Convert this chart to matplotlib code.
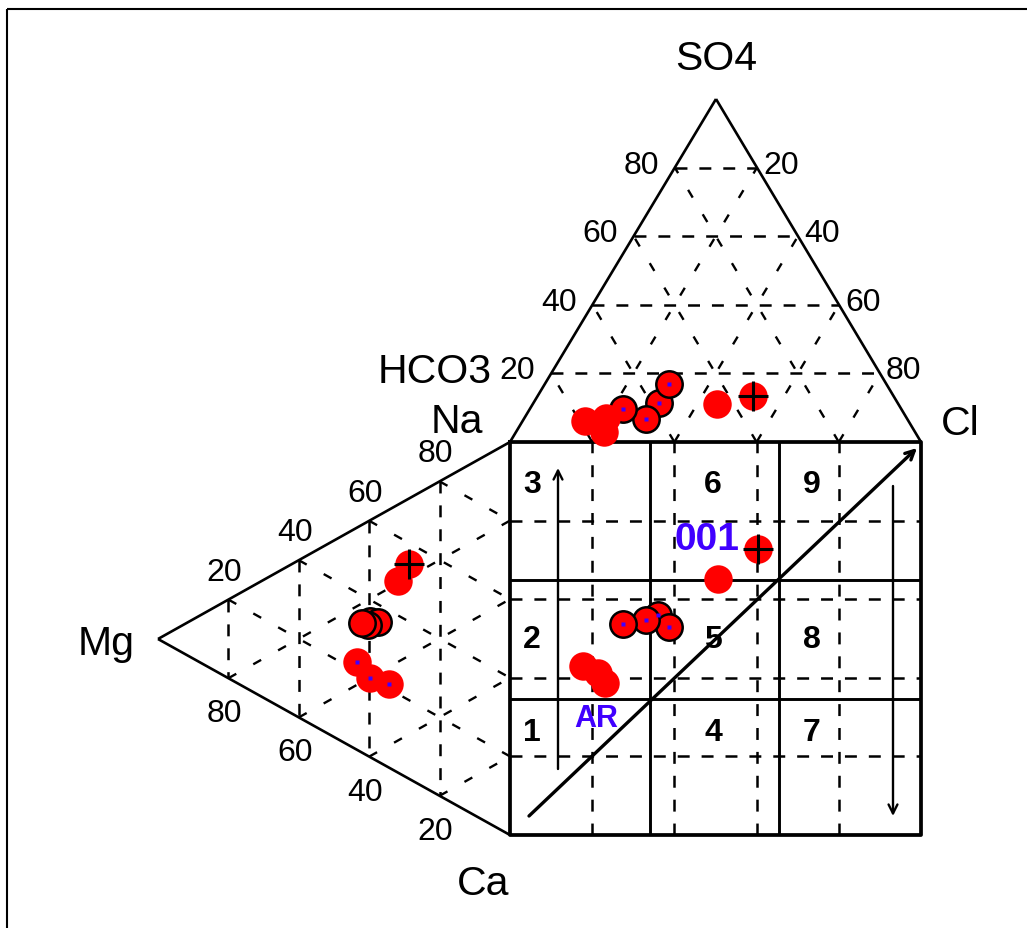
import matplotlib
matplotlib.use('Agg')
import matplotlib.pyplot as plt

plt.rcParams['font.family'] = ['Liberation Sans', 'DejaVu Sans']
plt.rcParams['lines.scale_dashes'] = False

# sample readings (percent) - one entry per plotted circle
kinds = ['cross', 'plain', 'ring', 'ring', 'ring', 'ring', 'blob', 'blob', 'blob']
# anion triangle
so4 = [13.4, 11.1, 11.4, 16.9, 6.7, 9.6, 6.1, 7.0, 2.9]
cl = [52.5, 44.9, 30.6, 30.3, 29.8, 22.7, 15.2, 19.9, 21.5]
# cation triangle
na = [54.7, 48.8, 34.6, 35.5, 33.3, 32.9, 22.3, 20.1, 21.3]
mg = [28.7, 31.8, 39.8, 37.5, 40.3, 42.0, 43.5, 39.8, 34.4]
# central square
sq_x = [60.3, 50.6, 36.0, 38.7, 33.1, 27.5, 17.8, 21.4, 23.1]
sq_y = [72.7, 65.1, 55.9, 52.8, 54.6, 53.8, 43.1, 41.1, 38.8]

grid_vals = [20, 40, 60, 80]
regions = ['3', '6', '9', '2', '5', '8', '1', '4', '7']

RED = '#ff0000'
BLUE = '#4000ff'

# layout (pixels)
T_H, T_C, T_S = (510, 443), (921, 443), (716, 100)   # HCO3, Cl, SO4
L_NA, L_CA, L_MG = (510, 443), (510, 836), (158, 640)
SQ_L, SQ_R, SQ_T, SQ_B = 510, 921, 443, 836


def bary(a, b, c, wa, wb):
    wc = 1 - wa - wb
    return (a[0] * wa + b[0] * wb + c[0] * wc, a[1] * wa + b[1] * wb + c[1] * wc)


def top_xy(s, c):
    return bary(T_S, T_C, T_H, s / 100, c / 100)


def left_xy(n, m):
    return bary(L_NA, L_MG, L_CA, n / 100, m / 100)


def sq_xy(px, py):
    return (SQ_L + (SQ_R - SQ_L) * px / 100, SQ_B - (SQ_B - SQ_T) * py / 100)


fig = plt.figure(figsize=(10.27, 9.29), dpi=100)
ax = fig.add_axes([0, 0, 1, 1])
ax.set_xlim(0, 1027)
ax.set_ylim(929, 0)
ax.axis('off')

k = 'black'
dash = (0, (8.6, 8.6))
sparse = (0, (6.5, 14))


def seg(p, q, **kw):
    ax.plot([p[0], q[0]], [p[1], q[1]], color=k, solid_capstyle='butt', **kw)


# frame
seg((7, 10), (1027, 10), lw=1.5)
seg((7, 10), (7, 929), lw=1.5)

# anion triangle grid
for v in grid_vals:
    seg(top_xy(v, 0), top_xy(v, 100 - v), lw=1.8, ls=dash)
    seg(top_xy(0, v), top_xy(100 - v, v), lw=1.7, ls=sparse)
    seg(top_xy(0, 100 - v), top_xy(100 - v, 0), lw=1.7, ls=sparse)
seg(T_H, T_S, lw=1.9)
seg(T_S, T_C, lw=1.9)

# cation triangle grid
for v in grid_vals:
    seg(left_xy(100 - v, v), left_xy(0, v), lw=1.8, ls=dash)
    seg(left_xy(v, 100 - v), left_xy(v, 0), lw=1.7, ls=sparse)
    seg(left_xy(0, 100 - v), left_xy(100 - v, 0), lw=1.7, ls=sparse)
seg(L_NA, L_MG, lw=1.9)
seg(L_MG, L_CA, lw=1.9)

# square grid
for v in grid_vals:
    seg(sq_xy(v, 0), sq_xy(v, 100), lw=1.8, ls=dash)
    seg(sq_xy(0, v), sq_xy(100, v), lw=1.8, ls=dash)
for v in [34, 65.5]:
    seg(sq_xy(v, 0), sq_xy(v, 100), lw=2.1)
for v in [34.7, 64.8]:
    seg(sq_xy(0, v), sq_xy(100, v), lw=2.1)
ax.plot([SQ_L, SQ_R, SQ_R, SQ_L, SQ_L], [SQ_T, SQ_T, SQ_B, SQ_B, SQ_T], color=k, lw=2.7)

arrow = dict(arrowstyle='->', color=k, lw=1.7, mutation_scale=16, shrinkA=0, shrinkB=0)
ax.annotate('', xy=(558, 469), xytext=(558, 770), arrowprops=arrow)
ax.annotate('', xy=(893, 817), xytext=(893, 487), arrowprops=arrow)
ax.annotate('', xy=(917, 449), xytext=(529, 817), arrowprops=dict(arrow, lw=2.4))

# region numbers
reg_x = [532, 713, 812]
reg_y = [485, 640, 733]
for i, r in enumerate(regions):
    ax.text(reg_x[i % 3], reg_y[i // 3], r, fontsize=23, fontweight='bold',
            ha='center', va='center', zorder=3)

# axis labels
lab = dict(fontsize=29.5, ha='center', va='baseline')
ax.text(716, 70, 'SO4', **lab)
ax.text(435, 383, 'HCO3', **lab)
ax.text(960, 435, 'Cl', **lab)
ax.text(457, 433, 'Na', **lab)
ax.text(106, 655, 'Mg', **lab)
ax.text(483, 895, 'Ca', **lab)

num = dict(fontsize=23, va='baseline')
for v in grid_vals:
    x, y = top_xy(v, 0)
    ax.text(x - 16, y + 5, str(v), ha='right', **num)
    x, y = top_xy(v, 100 - v)
    ax.text(x + 6, y + 5, str(100 - v), ha='left', **num)
    x, y = left_xy(v, 100 - v)
    ax.text(x - 4, y - 20, str(v), ha='center', **num)
    x, y = left_xy(0, 100 - v)
    ax.text(x - 4, y + 43, str(100 - v), ha='center', **num)


# samples
def marker(x, y, kind, dot):
    if kind == 'ring':
        ax.plot(x, y, 'o', ms=19, mfc=RED, mec=k, mew=1.8, zorder=5)
    else:
        ax.plot(x, y, 'o', ms=20.5, mfc=RED, mec='none', zorder=5)
    if kind == 'cross':
        ax.plot(x, y, '+', ms=22, mec=k, mew=2.2, zorder=6)
    if dot:
        ax.plot(x, y, 's', ms=3, mfc=BLUE, mec='none', zorder=6)


for i, kd in enumerate(kinds):
    marker(*top_xy(so4[i], cl[i]), kd, kd == 'ring')
    marker(*left_xy(na[i], mg[i]), kd, kd == 'blob')
    marker(*sq_xy(sq_x[i], sq_y[i]), kd, kd == 'ring')

cx, cy = sq_xy(sq_x[0], sq_y[0])
ax.text(cx - 18, cy - 10, '001', fontsize=28, fontweight='bold', color=BLUE,
        ha='right', va='center', zorder=7)
ax.text(596, 719, 'AR', fontsize=22, fontweight='bold', color=BLUE,
        ha='center', va='center', zorder=7)

fig.savefig('out.png', dpi=100, facecolor='white')
